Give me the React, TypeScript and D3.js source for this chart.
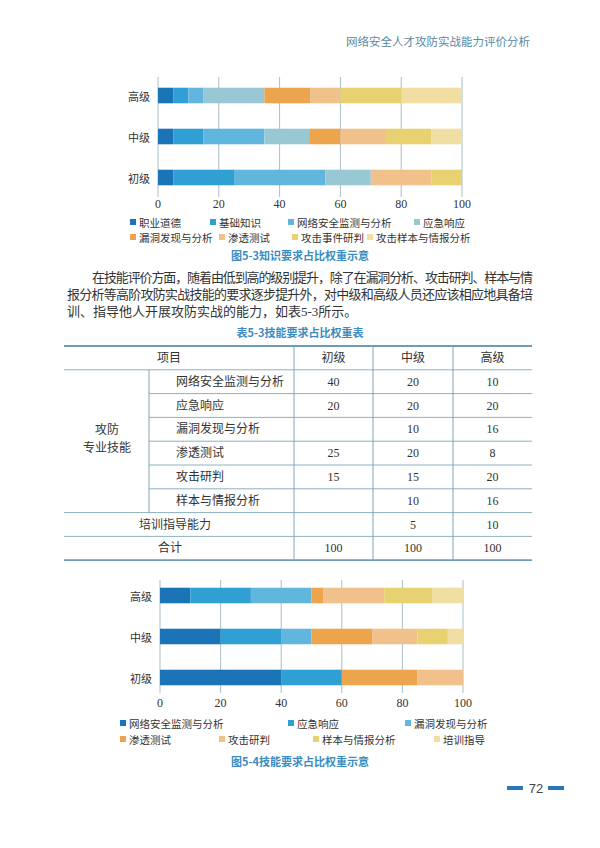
import React from "react";
import { scaleLinear, scaleBand, stack } from "d3";

// levels from top to bottom as drawn
const levels = ["高级", "中级", "初级"];
const ticks = [0, 20, 40, 60, 80, 100];

const knowledgeKeys = [
  "职业道德",
  "基础知识",
  "网络安全监测与分析",
  "应急响应",
  "漏洞发现与分析",
  "渗透测试",
  "攻击事件研判",
  "攻击样本与情报分析",
];
const knowledgeSenior = [5, 5, 5, 20, 15, 10, 20, 20];
const knowledgeMiddle = [5, 10, 20, 15, 10, 15, 15, 10];
const knowledgeJunior = [5, 20, 30, 15, 0, 20, 10, 0];
const knowledgeColors = ["#1c74b8", "#309fd3", "#60b6dc", "#98c8d4", "#eca54c", "#f1c18b", "#e7d170", "#f1dea3"];

const skillKeys = ["网络安全监测与分析", "应急响应", "漏洞发现与分析", "渗透测试", "攻击研判", "样本与情报分析", "培训指导"];
const skillSenior = [10, 20, 20, 4, 20, 16, 10];
const skillMiddle = [20, 20, 10, 20, 15, 10, 5];
const skillJunior = [40, 20, 0, 25, 15, 0, 0];
const skillColors = ["#1c74b8", "#309fd3", "#60b6dc", "#eca54c", "#f1c18b", "#e7d170", "#f1dea3"];

// table 5-3
const tableLevels = ["初级", "中级", "高级"];
const tableItems = ["网络安全监测与分析", "应急响应", "漏洞发现与分析", "渗透测试", "攻击研判", "样本与情报分析"];
const tableJunior = ["40", "20", "", "25", "15", "", "", "100"];
const tableMiddle = ["20", "20", "10", "20", "15", "10", "5", "100"];
const tableSenior = ["10", "20", "16", "8", "20", "16", "10", "100"];

const bodyLines = [
  "在技能评价方面，随着由低到高的级别提升，除了在漏洞分析、攻击研判、样本与情",
  "报分析等高阶攻防实战技能的要求逐步提升外，对中级和高级人员还应该相应地具备培",
  "训、指导他人开展攻防实战的能力，如表5-3所示。",
];

const CJK = "'Noto Sans CJK SC', sans-serif";
const SERIF = "'Liberation Serif', 'Noto Sans CJK SC', serif";
const CAPTION = "#3b8cc0";
const GRID = "#a9bec8";

interface ChartProps {
  keys: string[];
  colors: string[];
  values: number[][];
  x0: number;
  x1: number;
  top: number;
  bottom: number;
  gridTop: number;
  gridBottom: number;
  tickY: number;
  legend: [number, number][];
  caption: string;
  captionY: number;
}

const StackedChart: React.FC<ChartProps> = ({
  keys, colors, values, x0, x1, top, bottom, gridTop, gridBottom, tickY, legend, caption, captionY,
}) => {
  const x = scaleLinear().domain([0, 100]).range([x0, x1]);
  const y = scaleBand().domain(levels).range([top, bottom]).paddingInner(0.62).paddingOuter(0.31);
  const rows = levels.map((lv, i) => {
    const r: any = { level: lv };
    keys.forEach((k, j) => (r[k] = values[i][j]));
    return r;
  });
  const series = stack<any>().keys(keys)(rows);

  return (
    <g>
      {ticks.map((t) => (
        <g key={t}>
          <line x1={x(t)} x2={x(t)} y1={gridTop} y2={gridBottom} stroke={GRID} strokeWidth={1} />
          <text x={x(t)} y={tickY} textAnchor="middle" dominantBaseline="central" fontSize={12} fontFamily={SERIF} fill="#333">
            {t}
          </text>
        </g>
      ))}
      {series.map((s, i) =>
        s.map((d, j) => (
          <rect
            key={`${i}-${j}`}
            x={x(d[0])}
            width={Math.max(0, x(d[1]) - x(d[0]))}
            y={y(d.data.level)}
            height={y.bandwidth()}
            fill={colors[i]}
          />
        ))
      )}
      {levels.map((lv) => (
        <text key={lv} x={x0 - 8} y={(y(lv) as number) + y.bandwidth() / 2} textAnchor="end" dominantBaseline="central" fontSize={11} fontFamily={CJK} fill="#333">
          {lv}
        </text>
      ))}
      {keys.map((k, i) => (
        <g key={k}>
          <rect x={legend[i][0] - 9} y={legend[i][1] - 3} width={6} height={6} fill={colors[i]} />
          <text x={legend[i][0]} y={legend[i][1]} dominantBaseline="central" fontSize={10.5} fontFamily={CJK} fill="#333">
            {k}
          </text>
        </g>
      ))}
      <text x={300} y={captionY} textAnchor="middle" dominantBaseline="central" fontSize={11} fontWeight="bold" fontFamily={CJK} fill={CAPTION}>
        {caption}
      </text>
    </g>
  );
};

const Table: React.FC = () => {
  const left = 64;
  const right = 532;
  const top = 346;
  const rowH = 23.8;
  const cols = [294, 373, 453];
  const sub = 149;
  const colCenters = [333.5, 413, 492.5];
  const rowY = (i: number) => top + rowH * i;
  const colVals = [tableJunior, tableMiddle, tableSenior];
  const textProps = { dominantBaseline: "central" as const, fontSize: 12, fontFamily: SERIF, fill: "#333" };

  return (
    <g>
      <text x={300} y={332} textAnchor="middle" dominantBaseline="central" fontSize={11} fontWeight="bold" fontFamily={CJK} fill={CAPTION}>
        表5-3技能要求占比权重表
      </text>
      {/* horizontal rules */}
      {[1, 7, 8].map((i) => (
        <line key={i} x1={left} x2={right} y1={rowY(i)} y2={rowY(i)} stroke="#8db0c2" strokeWidth={1} />
      ))}
      {[2, 3, 4, 5, 6].map((i) => (
        <line key={i} x1={sub} x2={right} y1={rowY(i)} y2={rowY(i)} stroke="#8db0c2" strokeWidth={1} />
      ))}
      <line x1={left} x2={right} y1={rowY(0)} y2={rowY(0)} stroke="#6e9bb5" strokeWidth={1.8} />
      <line x1={left} x2={right} y1={rowY(9)} y2={rowY(9)} stroke="#6e9bb5" strokeWidth={1.8} />
      {cols.map((c) => (
        <line key={c} x1={c} x2={c} y1={rowY(0)} y2={rowY(9)} stroke="#7fa5ba" strokeWidth={1} />
      ))}
      <line x1={sub} x2={sub} y1={rowY(1)} y2={rowY(7)} stroke="#7fa5ba" strokeWidth={1} />

      <text x={169} y={rowY(0.5)} textAnchor="middle" {...textProps}>项目</text>
      {tableLevels.map((lv, i) => (
        <text key={lv} x={colCenters[i]} y={rowY(0.5)} textAnchor="middle" {...textProps}>{lv}</text>
      ))}
      <text x={107} y={rowY(3.55)} textAnchor="middle" {...textProps}>攻防</text>
      <text x={107} y={rowY(4.3)} textAnchor="middle" {...textProps}>专业技能</text>
      {tableItems.map((it, i) => (
        <text key={it} x={176} y={rowY(i + 1.5)} {...textProps}>{it}</text>
      ))}
      <text x={175} y={rowY(7.5)} textAnchor="middle" {...textProps}>培训指导能力</text>
      <text x={170} y={rowY(8.5)} textAnchor="middle" {...textProps}>合计</text>
      {colVals.map((vals, c) =>
        vals.map((v, r) => (
          <text key={`${c}-${r}`} x={colCenters[c]} y={rowY(r + 1.5)} textAnchor="middle" {...textProps}>{v}</text>
        ))
      )}
    </g>
  );
};

export default function App() {
  return (
    <div style={{ position: "absolute", left: 0, top: 0 }}>
      <svg width={600} height={848} style={{ display: "block", background: "#fff" }}>
        <text x={530} y={41} textAnchor="end" dominantBaseline="central" fontSize={11.5} fontFamily={CJK} fill="#5a88a2">
          网络安全人才攻防实战能力评价分析
        </text>

        <StackedChart
          keys={knowledgeKeys}
          colors={knowledgeColors}
          values={[knowledgeSenior, knowledgeMiddle, knowledgeJunior]}
          x0={158}
          x1={462}
          top={75}
          bottom={198}
          gridTop={77}
          gridBottom={197}
          tickY={204}
          legend={[
            [139, 222], [219, 222], [297, 222], [423, 222],
            [139, 237], [228, 237], [301, 237], [376, 237],
          ]}
          caption="图5-3知识要求占比权重示意"
          captionY={255}
        />

        {bodyLines.map((l, i) => (
          <text
            key={i}
            x={i === 0 ? 92 : 67}
            y={277 + i * 17}
            dominantBaseline="central"
            fontSize={13}
            fontFamily={SERIF}
            fill="#333"
            textLength={i === 0 ? 441 : i === 1 ? 466 : undefined}
            lengthAdjust="spacing"
          >
            {l}
          </text>
        ))}

        <Table />

        <StackedChart
          keys={skillKeys}
          colors={skillColors}
          values={[skillSenior, skillMiddle, skillJunior]}
          x0={160}
          x1={463}
          top={575}
          bottom={698}
          gridTop={580}
          gridBottom={693}
          tickY={703}
          legend={[
            [129, 723], [297, 723], [414, 723],
            [129, 739], [228, 739], [322, 739], [443, 739],
          ]}
          caption="图5-4技能要求占比权重示意"
          captionY={761}
        />

        <rect x={507} y={786} width={16} height={4} fill="#2a78b6" />
        <text x={536} y={788} textAnchor="middle" dominantBaseline="central" fontSize={13} fontFamily="'Liberation Sans', sans-serif" fill="#444">
          72
        </text>
        <rect x={548} y={786} width={16} height={4} fill="#2a78b6" />
      </svg>
    </div>
  );
}
